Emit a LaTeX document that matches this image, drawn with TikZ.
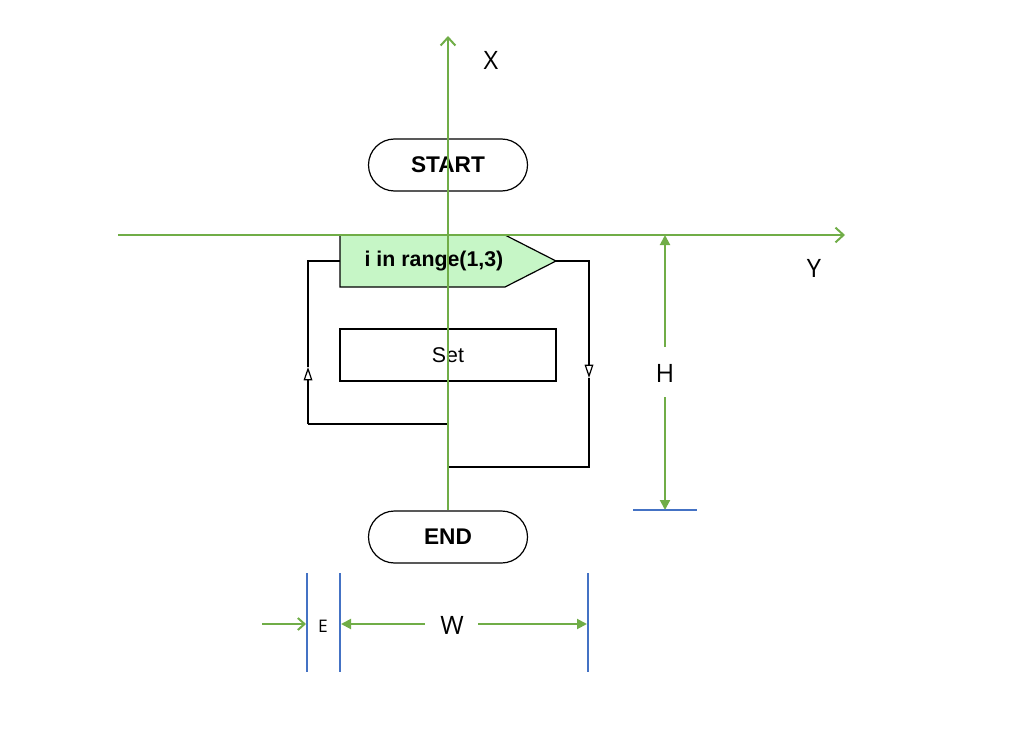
\documentclass[tikz,border=0pt]{standalone}
\usepackage{fontspec}
\setmainfont{Liberation Sans}
\newfontfamily\lblfont{Open Sans}
\usetikzlibrary{arrows.meta}

\definecolor{axisgreen}{HTML}{70AD47}
\definecolor{dimblue}{HTML}{4472C4}
\definecolor{headfill}{HTML}{C6F6C6}

\tikzset{
  termbox/.style={draw, line width=0.9pt, rounded corners=19.5pt, minimum width=119.25pt, minimum height=39pt, font=\fontsize{17}{19}\selectfont\bfseries},
  setbox/.style={draw, line width=0.9pt, minimum width=162pt, minimum height=39pt, font=\fontsize{16}{18}\selectfont},
  flow/.style={line width=0.9pt},
  looptip/.style={-{Triangle[open,length=10pt,width=6.5pt]}},
  axis/.style={draw=axisgreen, line width=1.5pt, -{Straight Barb[length=6pt,width=11pt]}},
  dimline/.style={draw=axisgreen, line width=1.5pt, -{Triangle[length=7.5pt,width=7.5pt]}},
  guide/.style={draw=dimblue, line width=1.5pt},
  lbl/.style={font=\lblfont\fontsize{19}{21}\selectfont},
}

\begin{document}
\begin{tikzpicture}[x=0.75pt,y=0.75pt,yscale=-1]
\useasboundingbox (0,0) rectangle (1028,738);

%Terminals and boxes
\node[termbox] (start) at (448,165) {START};
\node[setbox] (set) at (448,355) {Set};
\node[termbox] (end) at (448,537) {END};

%Loop header
\coordinate (hnw) at (340,235);
\coordinate (hne) at (505,235);
\coordinate (htip) at (556,261);
\coordinate (hse) at (505,287);
\coordinate (hsw) at (340,287);
\coordinate (hw) at (340,261);
\draw[flow, fill=headfill] (hnw) -- (hne) -- (htip) -- (hse) -- (hsw) -- cycle;
\node[font=\fontsize{16}{18}\selectfont\bfseries] (head) at (434,261) {i in range(1,3)};

%Loop back (left)
\coordinate (lbot) at (308,424);
\coordinate (larr) at (308,367);
\coordinate (ljoin) at (448,424);
\draw[flow] (hw) -- (308,261) -- (larr);
\draw[flow, looptip] (lbot) -- (larr);
\draw[flow] (lbot) -- (ljoin);

%Loop exit (right)
\coordinate (rarr) at (589,378);
\coordinate (rjoin) at (448,467);
\draw[flow, looptip] (htip) -- (589,261) -- (rarr);
\draw[flow] (rarr) -- (589,467) -- (rjoin);

%Axes
\coordinate (ytail) at (118,235);
\coordinate (yhead) at (845,235);
\coordinate (xhead) at (448,36);
\draw[axis] (ytail) -- (yhead);
\draw[axis] (end.north) -- (xhead);
\node[lbl] (xlbl) at (491,60) {X};
\node[lbl] (ylbl) at (814,268) {Y};

%Height
\coordinate (htop) at (665,235);
\coordinate (hbot) at (665,510);
\coordinate (hgapt) at (665,347);
\coordinate (hgapb) at (665,397);
\node[lbl] (hlbl) at (665,373) {H};
\draw[dimline] (hgapt) -- (htop);
\draw[dimline] (hgapb) -- (hbot);
\draw[guide] (633,510) -- (697,510);

%Width and edge
\draw[guide] (307,573) -- (307,672);
\draw[guide] (340,573) -- (340,672);
\draw[guide] (588,573) -- (588,672);
\node[lbl] (wlbl) at (452,625) {W};
\node[font=\lblfont\fontsize{13}{15}\selectfont] (elbl) at (323,626) {E};
\coordinate (etail) at (262,624);
\coordinate (ehead) at (306,624);
\coordinate (wgapl) at (425,624);
\coordinate (wgapr) at (478,624);
\draw[axis, -{Straight Barb[length=5pt,width=9pt]}] (etail) -- (ehead);
\draw[dimline] (wgapl) -- (341,624);
\draw[dimline] (wgapr) -- (587,624);
\end{tikzpicture}
\end{document}
